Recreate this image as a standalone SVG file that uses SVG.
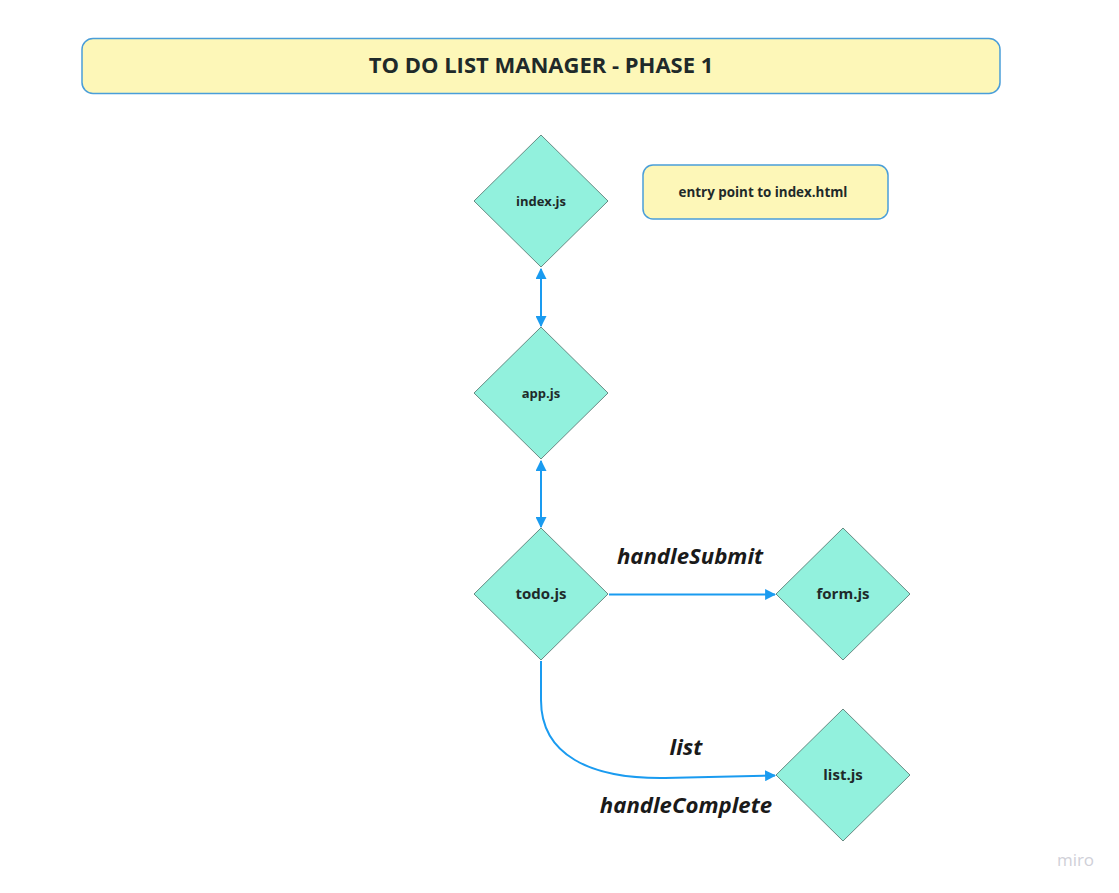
<svg xmlns="http://www.w3.org/2000/svg" width="1119" height="893" viewBox="0 0 1119 893">
<style>
.box{fill:#fdf7b8;stroke:#4a9ed9;stroke-width:1.5}
.dia{fill:#92f1dd;stroke:#4f6f68;stroke-width:0.8}
.lbl{font-family:"Open Sans","Noto Sans",sans-serif;font-weight:bold;fill:#1f2a2a;text-anchor:middle}
.edge{fill:none;stroke:#1a9bf0;stroke-width:2}
.elbl{font-family:"Open Sans","Noto Sans",sans-serif;font-weight:bold;font-style:italic;font-size:22.2px;fill:#1a1a1a;text-anchor:middle}
</style>
<defs>
<marker id="ah" viewBox="0 0 10 10" refX="9" refY="5" markerWidth="5.5" markerHeight="5.5" orient="auto-start-reverse" markerUnits="strokeWidth">
<path d="M0,0 L10,5 L0,10 Z" fill="#1a9bf0"/>
</marker>
</defs>
<rect width="1119" height="893" fill="#ffffff"/>
<g id="title">
<rect class="box" x="82" y="38.5" width="918" height="55" rx="11"/>
<text class="lbl" x="541" y="72.5" font-size="22">TO DO LIST MANAGER - PHASE 1</text>
</g>
<g id="note">
<rect class="box" x="643" y="165" width="245" height="54" rx="10"/>
<text class="lbl" x="763" y="197" font-size="13.4">entry point to index.html</text>
</g>
<g id="connectors">
<line class="edge" x1="541" y1="269" x2="541" y2="326" marker-start="url(#ah)" marker-end="url(#ah)"/>
<line class="edge" x1="541" y1="461" x2="541" y2="527" marker-start="url(#ah)" marker-end="url(#ah)"/>
<line class="edge" x1="609" y1="594.5" x2="775" y2="594.5" marker-end="url(#ah)"/>
<path class="edge" d="M541,661 L541,700 C541,755 590,779 665,778 L775,775.5" marker-end="url(#ah)"/>
<text class="elbl" x="690" y="564">handleSubmit</text>
<text class="elbl" x="686" y="755">list</text>
<text class="elbl" x="686" y="813">handleComplete</text>
</g>
<g id="index">
<polygon class="dia" points="541,135 608,201 541,267 474,201"/>
<text class="lbl" x="541" y="205.5" font-size="13">index.js</text>
</g>
<g id="app">
<polygon class="dia" points="541,327 608,393 541,459 474,393"/>
<text class="lbl" x="541" y="397.5" font-size="13">app.js</text>
</g>
<g id="todo">
<polygon class="dia" points="541,528 608,594 541,660 474,594"/>
<text class="lbl" x="541" y="599" font-size="15">todo.js</text>
</g>
<g id="form">
<polygon class="dia" points="843,528 910,594 843,660 776,594"/>
<text class="lbl" x="843" y="599" font-size="15">form.js</text>
</g>
<g id="list">
<polygon class="dia" points="843,709 910,775 843,841 776,775"/>
<text class="lbl" x="843" y="780" font-size="15" font-weight="600">list.js</text>
</g>
<text x="1075.5" y="866" font-family="Open Sans,sans-serif" font-size="17" fill="#d0d0d8" text-anchor="middle">miro</text>
</svg>
